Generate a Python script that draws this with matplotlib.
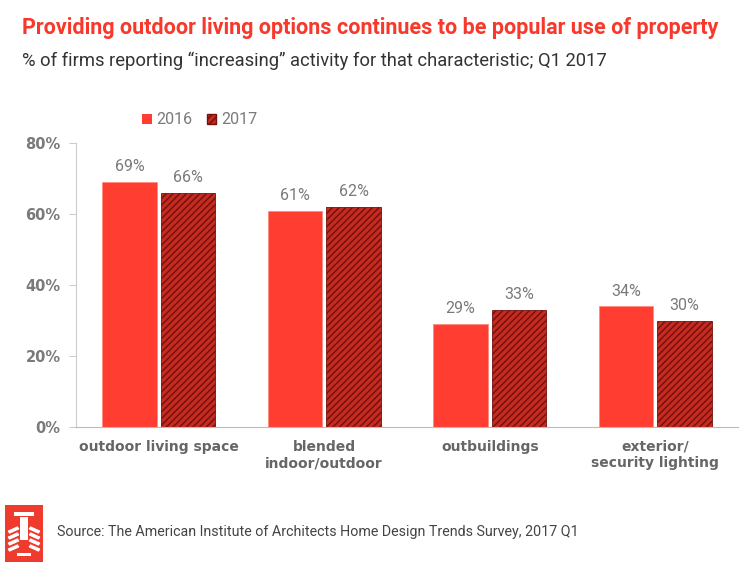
import matplotlib
matplotlib.use("Agg")
import matplotlib.pyplot as plt
import matplotlib.patches as mpatches
import numpy as np

plt.rcParams["hatch.linewidth"] = 1.1

# data
categories = ["outdoor living space", "blended\nindoor/outdoor", "outbuildings", "exterior/\nsecurity lighting"]
values_2016 = [69, 61, 29, 34]
values_2017 = [66, 62, 33, 30]
series_names = ["2016", "2017"]
yticks = [0, 20, 40, 60, 80]

RED = "#FF3D31"
DARK = "#C62A21"
HATCH = "#74130E"
GRAY = "#7A7A7A"
FONT = ["Roboto", "DejaVu Sans"]

fig = plt.figure(figsize=(7.5, 5.68), dpi=100)
ax = fig.add_axes([0.1013, 0.2482, 0.8827, 0.4998])

x = np.arange(len(categories))
w = 0.33
off = 0.177

plt.rcParams["hatch.color"] = HATCH
b1 = ax.bar(x - off, values_2016, w, color=RED, edgecolor="#FF8A80", linewidth=0.6, label=series_names[0])
b2 = ax.bar(x + off, values_2017, w, color=DARK, edgecolor=HATCH, hatch="/////", linewidth=0.6, label=series_names[1])

for bars, vals in ((b1, values_2016), (b2, values_2017)):
    for rect, v in zip(bars, vals):
        ax.text(rect.get_x() + rect.get_width() / 2, v + 2.2, f"{v}%",
                ha="center", va="bottom", fontsize=11.5, color=GRAY, family=FONT)

ax.set_xlim(-0.5, 3.5)
ax.set_ylim(0, 80)
ax.set_yticks(yticks)
ax.set_yticklabels([f"{t}%" for t in yticks], fontsize=10.5, fontweight="bold", color=GRAY)
ax.set_xticks(x)
ax.set_xticklabels(categories, fontsize=10, fontweight="bold", color="#666666", linespacing=1.25)
ax.tick_params(axis="x", length=0, pad=9)
ax.tick_params(axis="y", length=5, color="#CCCCCC", pad=6)

for s in ("top", "right"):
    ax.spines[s].set_visible(False)
ax.spines["left"].set_color("#CCCCCC")
ax.spines["bottom"].set_color("#BBBBBB")

leg = ax.legend(handles=[mpatches.Patch(facecolor=RED, label=series_names[0]),
                         mpatches.Patch(facecolor=DARK, edgecolor=HATCH, hatch="/////", label=series_names[1])],
                loc="lower left", bbox_to_anchor=(0.078, 1.005), ncol=2, frameon=False,
                handlelength=0.6, handleheight=0.6, handletextpad=0.3, columnspacing=0.9,
                prop={"family": FONT, "size": 11.5})
for t in leg.get_texts():
    t.set_color(GRAY)

fig.text(0.029, 0.950, "Providing outdoor living options continues to be popular use of property",
         fontsize=15.5, fontweight="bold", color="#F7382B", family=FONT, va="center")
fig.text(0.029, 0.893, "% of firms reporting \u201cincreasing\u201d activity for that characteristic; Q1 2017",
         fontsize=13.2, color="#333333", family=FONT, va="center")

# logo box (simplified column emblem)
T = fig.transFigure
fig.patches.append(mpatches.Rectangle((5 / 750, 6 / 568), 38 / 750, 57 / 568,
                                      transform=T, facecolor="#EE3B2E", edgecolor="none"))
fig.patches.append(mpatches.Rectangle((14 / 750, 52 / 568), 20 / 750, 4 / 568,
                                      transform=T, facecolor="white", edgecolor="none"))
fig.patches.append(mpatches.Rectangle((20 / 750, 28 / 568), 8 / 750, 23 / 568,
                                      transform=T, facecolor="white", edgecolor="none"))
for side in (-1, 1):
    for k in range(4):
        x0 = 24 + side * 6
        y0 = 40 - k * 6
        fig.patches.append(mpatches.FancyArrow(x0 / 750, y0 / 568, side * 9 / 750, -4 / 568,
                                               width=2 / 568, head_width=0, head_length=0,
                                               transform=T, color="white"))
fig.patches.append(mpatches.Rectangle((17 / 750, 12 / 568), 14 / 750, 3 / 568,
                                      transform=T, facecolor="white", edgecolor="none"))

fig.text(57 / 750, 36 / 568, "Source: The American Institute of Architects Home Design Trends Survey, 2017 Q1",
         fontsize=10.3, color="#444444", family=FONT, va="center")

fig.savefig("out.png", dpi=100)
